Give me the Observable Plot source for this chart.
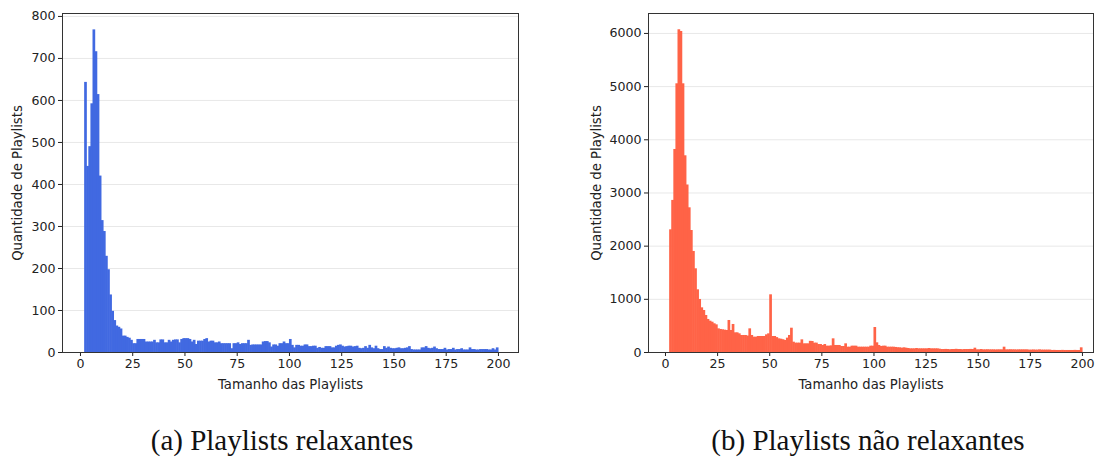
<!DOCTYPE html>
<html>
<head>
<meta charset="utf-8">
<script src="https://cdn.jsdelivr.net/npm/d3@7"></script>
<script src="https://cdn.jsdelivr.net/npm/@observablehq/plot@0.6"></script>
<style>
  html, body { margin: 0; padding: 0; background: #fff; }
  #wrap { position: relative; width: 1095px; height: 459px; overflow: hidden; }
  .panel { position: absolute; top: 0; }
  .caption { position: absolute; top: 423px; line-height: 34px; font-family: "Liberation Serif", "DejaVu Serif", serif; font-size: 29px; color: #111; white-space: nowrap; transform: translateX(-50%); }
</style>
</head>
<body>
<div id="wrap">
  <div id="left" class="panel" style="left:0px"></div>
  <div id="right" class="panel" style="left:548px"></div>
  <div class="caption" style="left:282px">(a) Playlists relaxantes</div>
  <div class="caption" style="left:868px">(b) Playlists não relaxantes</div>
</div>
<script>
// Bin starts (playlist length), each bin is one unit wide: [x, x+1)
const binStarts = d3.range(2, 200);

// Counts for relaxing playlists (bins 2..199)
const relaxCounts = [
  643, 443, 490, 592, 768, 716, 614, 420, 314, 288,
  229, 197, 137, 98, 76, 63, 60, 56, 39, 39,
  36, 34, 29, 21, 21, 31, 31, 31, 31, 25,
  25, 25, 25, 29, 23, 23, 30, 30, 23, 23,
  29, 25, 29, 30, 30, 23, 31, 33, 33, 33,
  31, 25, 29, 19, 27, 27, 27, 31, 33, 25,
  27, 27, 23, 23, 25, 21, 21, 21, 21, 21,
  9, 21, 21, 23, 19, 21, 21, 21, 29, 17,
  18, 18, 18, 18, 18, 25, 26, 26, 23, 13,
  18, 18, 15, 21, 21, 25, 21, 21, 31, 17,
  11, 17, 17, 15, 15, 18, 18, 14, 14, 15,
  15, 10, 12, 10, 10, 14, 14, 14, 11, 11,
  15, 17, 18, 15, 13, 14, 15, 15, 13, 14,
  15, 10, 9, 10, 14, 10, 17, 11, 9, 15,
  9, 7, 7, 14, 10, 13, 10, 9, 9, 10,
  11, 9, 9, 10, 11, 14, 7, 6, 6, 6,
  6, 11, 11, 14, 10, 9, 10, 13, 9, 7,
  7, 7, 10, 6, 7, 7, 10, 6, 7, 7,
  9, 6, 6, 6, 11, 7, 7, 6, 6, 7,
  7, 7, 7, 6, 6, 9, 6, 11
];

// Counts for non-relaxing playlists (bins 2..199)
const otherCounts = [
  2307, 2860, 3818, 5053, 6069, 6037, 5053, 3699, 3150, 2721,
  2294, 1900, 1574, 1179, 997, 840, 790, 696, 621, 589,
  570, 540, 520, 445, 433, 427, 420, 414, 602, 414,
  527, 370, 370, 351, 320, 320, 320, 310, 445, 320,
  288, 288, 301, 301, 301, 301, 332, 351, 1085, 301,
  301, 280, 257, 250, 240, 226, 270, 320, 457, 194,
  176, 176, 176, 238, 163, 163, 163, 210, 207, 176,
  176, 150, 150, 132, 150, 119, 119, 125, 257, 132,
  132, 132, 113, 113, 163, 100, 100, 119, 119, 119,
  100, 100, 100, 100, 100, 100, 119, 119, 470, 182,
  132, 113, 119, 119, 100, 100, 100, 100, 95, 90,
  88, 81, 88, 81, 75, 69, 69, 69, 75, 69,
  69, 69, 69, 69, 75, 69, 69, 69, 69, 63,
  56, 56, 58, 56, 52, 56, 56, 60, 56, 56,
  52, 56, 56, 56, 58, 56, 81, 50, 50, 56,
  50, 50, 52, 50, 50, 50, 48, 50, 50, 50,
  100, 50, 50, 52, 50, 50, 48, 50, 50, 50,
  50, 50, 45, 45, 48, 45, 45, 50, 45, 45,
  45, 45, 45, 38, 40, 38, 38, 38, 40, 38,
  38, 38, 38, 38, 40, 38, 38, 88
];

const xTicks = [0, 25, 50, 75, 100, 125, 150, 175, 200];
const yTicksLeft = [0, 100, 200, 300, 400, 500, 600, 700, 800];
const yTicksRight = [0, 1000, 2000, 3000, 4000, 5000, 6000];
const xLabel = "Tamanho das Playlists";
const yLabel = "Quantidade de Playlists";

function histo({counts, color, width, marginLeft, marginRight, xDomain, yDomain, yTicks, yLabelDx}) {
  const data = binStarts.map((b, i) => ({x: b, v: counts[i]}));
  return Plot.plot({
    width, height: 400,
    marginLeft, marginRight, marginTop: 13, marginBottom: 48,
    style: {fontFamily: "DejaVu Sans, sans-serif", fontSize: "12.6px", color: "#222", background: "white"},
    x: {domain: xDomain},
    y: {domain: yDomain},
    marks: [
      Plot.gridY(yTicks, {stroke: "#e8e8e8", strokeOpacity: 1, strokeWidth: 1}),
      Plot.rectY(data, {x1: "x", x2: d => d.x + 1, y: "v", fill: color, insetLeft: 0, insetRight: -0.6}),
      Plot.axisX({ticks: xTicks, tickSize: 4, tickPadding: 3, label: null, tickFormat: d => String(d)}),
      Plot.axisY({ticks: yTicks, tickSize: 4, tickPadding: 3, label: null, tickFormat: d => String(d)}),
      Plot.frame({stroke: "#333", strokeWidth: 1}),
      Plot.text([xLabel], {frameAnchor: "bottom", dy: 32, text: d => d, textAnchor: "middle", lineAnchor: "middle", fontSize: 13.2, fill: "#222"}),
      Plot.text([yLabel], {frameAnchor: "left", dx: yLabelDx, rotate: -90, text: d => d, textAnchor: "middle", lineAnchor: "middle", fontSize: 13.2, fill: "#222"})
    ]
  });
}

document.getElementById("left").append(histo({
  counts: relaxCounts, color: "#4169e1", width: 545,
  marginLeft: 62, marginRight: 27,
  xDomain: [-8.6, 209.6], yDomain: [0, 807], yTicks: yTicksLeft, yLabelDx: -45
}));

document.getElementById("right").append(histo({
  counts: otherCounts, color: "#ff6347", width: 547,
  marginLeft: 100, marginRight: 2,
  xDomain: [-8.15, 205.3], yDomain: [0, 6375], yTicks: yTicksRight, yLabelDx: -52
}));
</script>
</body>
</html>
